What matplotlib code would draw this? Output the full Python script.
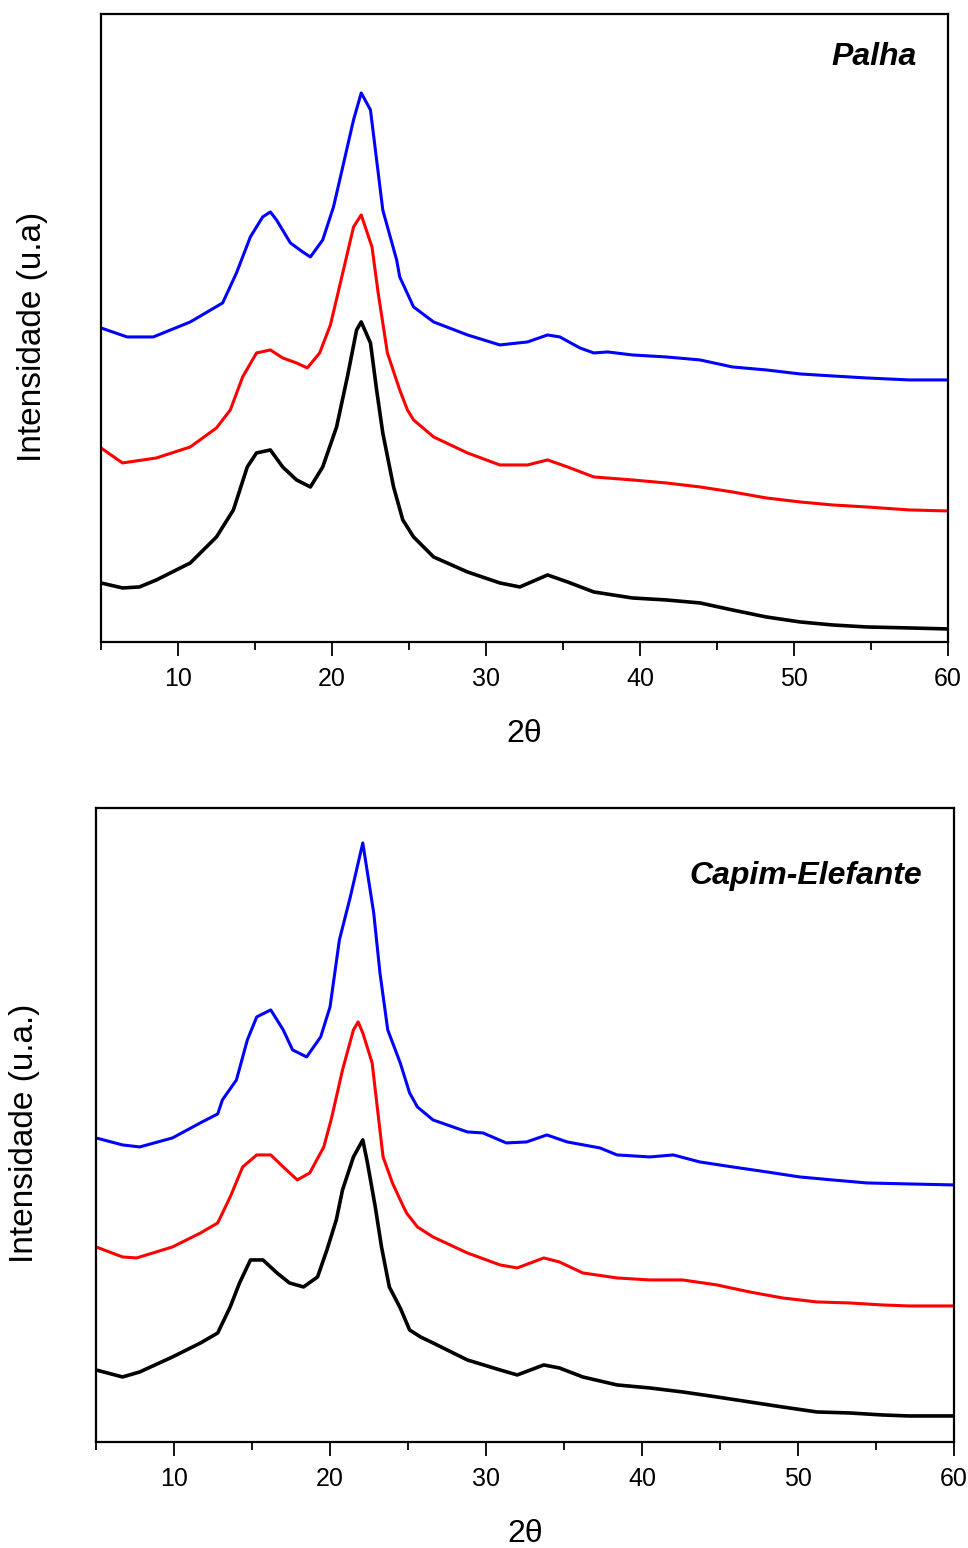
import numpy as np
import matplotlib
matplotlib.use("Agg")
import matplotlib.pyplot as plt
from matplotlib.ticker import MultipleLocator, NullLocator

plt.rcParams['font.family'] = ['Liberation Sans', 'DejaVu Sans']

# ---- Palha (painel de cima) ----
palha_x_azul = [5.0, 6.7, 8.4, 10.8, 12.9, 13.8, 14.7, 15.5, 16.0, 16.4, 17.3, 18.1, 18.6, 19.4,
                20.1, 20.7, 21.4, 21.9, 22.5, 22.9, 23.3, 24.2, 24.4, 25.3, 26.6, 28.8, 30.9,
                32.7, 34.0, 34.8, 36.1, 37.0, 37.9, 39.5, 41.7, 43.9, 46.0, 48.2, 50.4, 52.5,
                54.7, 57.5, 60.0]
palha_y_azul = [314, 305, 305, 320, 339, 369, 405, 425, 430, 422, 399, 390, 385, 402,
                435, 475, 522, 549, 532, 482, 432, 382, 365, 335, 320, 307, 297,
                300, 307, 305, 294, 289, 290, 287, 285, 282, 275, 272, 268, 266,
                264, 262, 262]

palha_x_verm = [5.0, 6.4, 8.6, 10.8, 12.5, 13.4, 14.2, 15.1, 16.0, 16.8, 17.7, 18.4, 19.2, 19.9,
                20.7, 21.4, 21.9, 22.6, 23.0, 23.6, 24.4, 24.9, 25.3, 26.6, 28.8, 30.9, 32.7,
                34.0, 35.3, 37.0, 39.5, 41.7, 43.9, 46.0, 48.2, 50.4, 52.5, 54.7, 57.5, 60.0]
palha_y_verm = [194, 179, 184, 195, 214, 232, 265, 289, 292, 284, 279, 274, 289, 317,
                369, 415, 427, 395, 349, 289, 252, 232, 222, 205, 189, 177, 177,
                182, 175, 165, 162, 159, 155, 150, 144, 140, 137, 135, 132, 131]

palha_x_preto = [5.0, 6.4, 7.5, 8.6, 10.8, 12.5, 13.6, 14.5, 15.1, 16.0, 16.8, 17.7, 18.6, 19.4,
                 20.3, 21.0, 21.6, 21.9, 22.5, 22.9, 23.3, 24.0, 24.6, 25.3, 26.6, 28.8, 30.9,
                 32.2, 34.0, 35.3, 37.0, 39.5, 41.7, 43.9, 46.0, 48.2, 50.4, 52.5, 54.7, 57.5, 60.0]
palha_y_preto = [59, 54, 55, 62, 79, 105, 132, 175, 189, 192, 175, 162, 155, 175,
                 215, 265, 312, 320, 299, 252, 209, 155, 122, 105, 85, 70, 59,
                 55, 67, 60, 50, 44, 42, 39, 32, 25, 20, 17, 15, 14, 13]

# ---- Capim-Elefante (painel de baixo) ----
capim_x_azul = [5.0, 6.7, 7.8, 9.9, 11.8, 12.8, 13.1, 14.0, 14.7, 15.3, 16.2, 17.0, 17.6, 18.5,
                19.4, 20.0, 20.6, 21.3, 22.1, 22.8, 23.2, 23.7, 24.5, 25.1, 25.6, 26.6, 28.8,
                29.8, 31.3, 32.6, 33.9, 35.2, 37.3, 38.4, 40.5, 42.0, 43.7, 45.8, 48.0, 50.1,
                52.2, 54.4, 57.1, 60.0]
capim_y_azul = [304, 297, 295, 304, 320, 328, 342, 362, 402, 425, 432, 412, 392, 385,
                405, 435, 502, 545, 599, 529, 469, 412, 379, 349, 335, 322, 310,
                309, 299, 300, 307, 300, 294, 287, 285, 287, 280, 275, 270, 265,
                262, 259, 258, 257]

capim_x_verm = [5.0, 6.7, 7.6, 9.9, 11.7, 12.8, 13.6, 14.4, 15.3, 16.2, 17.0, 17.9, 18.7, 19.6,
                20.1, 20.8, 21.5, 21.8, 22.1, 22.7, 23.1, 23.4, 24.0, 24.5, 24.9, 25.6, 26.6,
                28.8, 30.9, 32.0, 33.7, 34.7, 36.2, 38.4, 40.5, 42.6, 44.8, 46.9, 49.0, 51.2,
                53.3, 55.4, 57.1, 60.0]
capim_y_verm = [195, 185, 184, 195, 209, 219, 245, 275, 287, 287, 275, 262, 269, 295,
                324, 372, 412, 420, 409, 379, 325, 285, 259, 242, 229, 215, 205,
                189, 177, 174, 184, 180, 169, 164, 162, 162, 157, 150, 144, 140,
                139, 137, 136, 136]

capim_x_preto = [5.0, 6.7, 7.8, 9.9, 11.7, 12.8, 13.6, 14.2, 14.9, 15.7, 16.6, 17.4, 18.3, 19.2,
                 19.8, 20.4, 20.8, 21.5, 22.1, 22.4, 22.9, 23.3, 23.8, 24.5, 25.1, 25.8, 26.6,
                 28.8, 30.9, 32.0, 33.7, 34.7, 36.2, 38.4, 40.5, 42.6, 44.8, 46.9, 49.0, 51.2,
                 53.3, 55.4, 57.1, 60.0]
capim_y_preto = [72, 65, 70, 85, 99, 109, 135, 159, 182, 182, 169, 159, 155, 165,
                 192, 222, 252, 285, 302, 279, 235, 195, 155, 134, 112, 105, 99,
                 82, 72, 67, 77, 74, 65, 57, 54, 50, 45, 40, 35, 30,
                 29, 27, 26, 26]

xticks = [10, 20, 30, 40, 50, 60]


def desenha(ax, series, ylim, titulo, ylabel, ty, ycoords):
    for xs, ys, cor, lw in series:
        ax.plot(xs, ys, color=cor, linewidth=lw)
    ax.set_xlim(5, 60)
    ax.set_ylim(*ylim)
    ax.xaxis.set_major_locator(MultipleLocator(10))
    ax.xaxis.set_minor_locator(MultipleLocator(5))
    ax.yaxis.set_major_locator(NullLocator())
    ax.tick_params(axis='x', which='major', direction='out', length=10, width=1.3,
                   labelsize=18, pad=8)
    ax.tick_params(axis='x', which='minor', direction='out', length=6, width=1.3)
    ax.set_xticks(xticks)
    for s in ax.spines.values():
        s.set_linewidth(1.6)
    ax.set_xlabel("2θ", fontsize=23, labelpad=20)
    ax.set_ylabel(ylabel, fontsize=24)
    ax.yaxis.set_label_coords(*ycoords)
    ax.text(0.963, ty, titulo, transform=ax.transAxes, ha='right', va='center',
            fontsize=23, fontweight='bold', fontstyle='italic')


fig = plt.figure(figsize=(9.68, 15.48), dpi=100)

ax1 = fig.add_axes([0.1043, 0.5853, 0.875, 0.4057])
desenha(ax1,
        [(palha_x_preto, palha_y_preto, 'black', 2.6),
         (palha_x_verm, palha_y_verm, 'red', 2.2),
         (palha_x_azul, palha_y_azul, 'blue', 2.2)],
        (0, 628), "Palha", "Intensidade (u.a)", 0.932, (-0.063, 0.486))

ax2 = fig.add_axes([0.0992, 0.0685, 0.8864, 0.4096])
desenha(ax2,
        [(capim_x_preto, capim_y_preto, 'black', 2.6),
         (capim_x_verm, capim_y_verm, 'red', 2.2),
         (capim_x_azul, capim_y_azul, 'blue', 2.2)],
        (0, 634), "Capim-Elefante", "Intensidade (u.a.)", 0.893, (-0.065, 0.486))

fig.savefig("out.png", dpi=100)
